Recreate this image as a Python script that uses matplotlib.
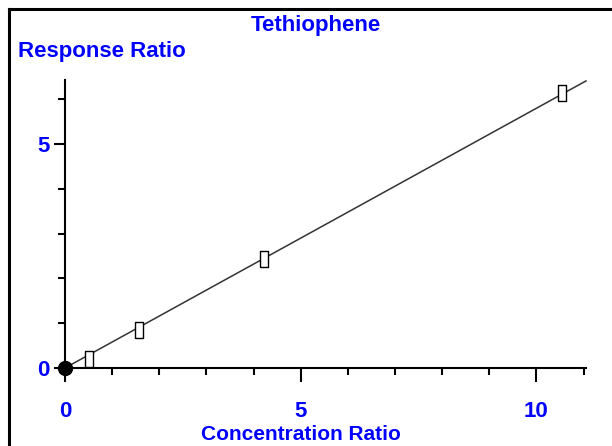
from matplotlib import pyplot as plt
from matplotlib.lines import Line2D
import numpy as np

# kalibracijske tocke
conc_ratio = [0.51, 1.57, 4.22, 10.55]
resp_ratio = [0.20, 0.85, 2.43, 6.14]
origin = [0.0, 0.0]

x_major = [0, 5, 10]
y_major = [0, 5]
x_minor = [1, 2, 3, 4, 6, 7, 8, 9, 11]
y_minor = [1, 2, 3, 4, 6]

blue = '#0000ff'
plt.rcParams['font.family'] = ['Liberation Sans', 'DejaVu Sans']

fig = plt.figure(figsize=(6.12, 4.46), dpi=100)
ax = fig.add_axes([0.1062, 0.1749, 0.8513, 0.6457])

# premica skozi izhodisce
x = np.array(conc_ratio)
y = np.array(resp_ratio)
k = np.sum(x * y) / np.sum(x * x)
xl = np.array([0, 11.05])
ax.plot(xl, k * xl, color='#333333', lw=1.1, clip_on=False)

box = [(-1, -2), (1, -2), (1, 2), (-1, 2), (-1, -2)]
ax.plot(conc_ratio, resp_ratio, ls='none', marker=box, ms=11.5,
        mfc='white', mec='black', mew=1.0, clip_on=False, zorder=3)
ax.plot(origin[0], origin[1], 'o', color='black', ms=10, clip_on=False, zorder=4)

ax.set_xlim(0, 11.05)
ax.set_ylim(0, 6.43)
ax.spines['top'].set_visible(False)
ax.spines['right'].set_visible(False)
ax.spines['left'].set_linewidth(1.5)
ax.spines['bottom'].set_linewidth(1.5)

ax.set_xticks(x_major)
ax.set_yticks(y_major)
ax.set_xticks(x_minor, minor=True)
ax.set_yticks(y_minor, minor=True)
ax.tick_params(axis='x', which='major', length=10, width=1.5, direction='out', pad=14,
               labelsize=16, labelcolor=blue)
ax.tick_params(axis='x', which='minor', length=5, width=1.5, direction='out')
ax.tick_params(axis='y', which='major', length=8, width=1.5, direction='out', pad=3,
               labelsize=16, labelcolor=blue)
ax.tick_params(axis='y', which='minor', length=5, width=1.5, direction='out')
for lab in ax.get_xticklabels() + ax.get_yticklabels():
    lab.set_fontweight('bold')

fig.text(316 / 612, 1 - 26 / 446, 'Tethiophene', color=blue, fontsize=16,
         fontweight='bold', ha='center', va='center')
fig.text(18 / 612, 1 - 52 / 446, 'Response Ratio', color=blue, fontsize=16,
         fontweight='bold', ha='left', va='center')
fig.text(301 / 612, 1 - 434 / 446, 'Concentration Ratio', color=blue, fontsize=15,
         fontweight='bold', ha='center', va='center')

# okvir
fig.add_artist(Line2D([9 / 612, 1], [1 - 9 / 446, 1 - 9 / 446], color='black', lw=2.2,
                      transform=fig.transFigure))
fig.add_artist(Line2D([9 / 612, 9 / 612], [0, 1 - 9 / 446], color='black', lw=2.2,
                      transform=fig.transFigure))

plt.savefig('out.png', dpi=100)
